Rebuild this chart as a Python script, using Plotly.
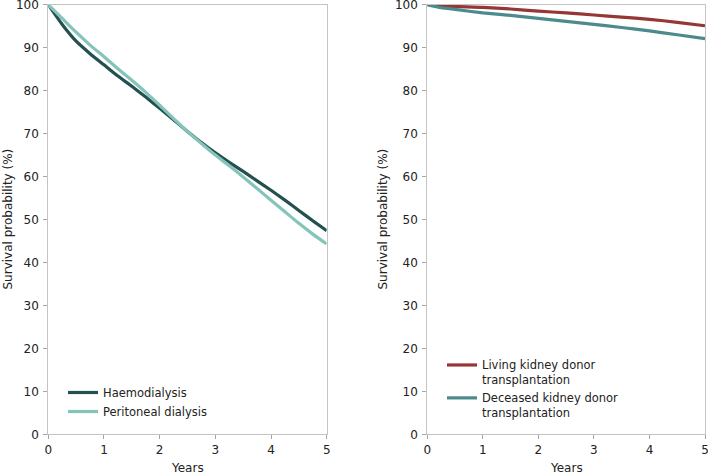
import plotly.graph_objects as go

years = [0, 0.25, 0.5, 0.75, 1, 1.25, 1.5, 1.75, 2, 2.25, 2.5, 2.75, 3, 3.25, 3.5, 3.75, 4, 4.25, 4.5, 4.75, 5]
haemodialysis = [100, 95.4, 91.5, 88.6, 86.0, 83.4, 81.0, 78.5, 75.9, 73.2, 70.5, 67.9, 65.5, 63.3, 61.2, 59.0, 56.8, 54.5, 52.1, 49.7, 47.4]
peritoneal = [100, 96.8, 93.6, 90.6, 87.9, 85.1, 82.4, 79.6, 76.6, 73.5, 70.5, 67.7, 65.0, 62.5, 59.9, 57.2, 54.5, 51.8, 49.1, 46.6, 44.3]

years_tx = [0, 0.25, 0.5, 1, 1.5, 2, 2.5, 3, 3.5, 4, 4.5, 5]
living = [100, 99.8, 99.6, 99.4, 99.0, 98.5, 98.1, 97.6, 97.1, 96.6, 95.9, 95.1]
deceased = [100, 99.3, 98.9, 98.1, 97.5, 96.8, 96.1, 95.4, 94.7, 93.9, 93.0, 92.1]

names_left = ["Haemodialysis", "Peritoneal dialysis"]
names_right = ["Living kidney donor<br>transplantation", "Deceased kidney donor<br>transplantation"]
colors = ["#24514F", "#84C4B9", "#953735", "#4B8B8D"]

x_ticks = [0, 1, 2, 3, 4, 5]
y_ticks = [0, 10, 20, 30, 40, 50, 60, 70, 80, 90, 100]
x_title = "Years"
y_title = "Survival probability (%)"

FONT = "DejaVu Sans, Verdana, sans-serif"
TXT = "#222222"
W, H = 708, 474

fig = go.Figure()
fig.add_trace(go.Scatter(x=years, y=haemodialysis, name=names_left[0], mode="lines",
                         line=dict(color=colors[0], width=3.2, shape="spline", smoothing=0.6),
                         xaxis="x", yaxis="y", legend="legend"))
fig.add_trace(go.Scatter(x=years, y=peritoneal, name=names_left[1], mode="lines",
                         line=dict(color=colors[1], width=3.2, shape="spline", smoothing=0.6),
                         xaxis="x", yaxis="y", legend="legend"))
fig.add_trace(go.Scatter(x=years_tx, y=living, name=names_right[0], mode="lines",
                         line=dict(color=colors[2], width=3.2, shape="spline", smoothing=0.6),
                         xaxis="x2", yaxis="y2", legend="legend2"))
fig.add_trace(go.Scatter(x=years_tx, y=deceased, name=names_right[1], mode="lines",
                         line=dict(color=colors[3], width=3.2, shape="spline", smoothing=0.6),
                         xaxis="x2", yaxis="y2", legend="legend2"))

axis_common = dict(showgrid=False, zeroline=False, showline=True, linecolor="#C4C4C4", linewidth=1,
                   mirror=True, ticks="outside", ticklen=4, tickcolor="#A6A6A6",
                   automargin=False, ticklabeloverflow="allow",
                   tickfont=dict(family=FONT, size=12, color=TXT))

ydom = [1 - 434.3 / H, 1 - 4.7 / H]
xdom1 = [48.3 / W, 326.7 / W]
xdom2 = [427.3 / W, 705 / W]

ann = []
for xd, ycx in ((xdom1, 8), (xdom2, 383)):
    ann.append(dict(text=x_title, xref="paper", yref="paper", x=(xd[0] + xd[1]) / 2, y=1 - 468 / H,
                    xanchor="center", yanchor="middle", showarrow=False,
                    font=dict(family=FONT, size=12, color=TXT)))
    ann.append(dict(text=y_title, xref="paper", yref="paper", x=ycx / W, y=(ydom[0] + ydom[1]) / 2,
                    xanchor="center", yanchor="middle", textangle=-90, showarrow=False,
                    font=dict(family=FONT, size=12, color=TXT)))

fig.update_layout(
    width=W, height=H,
    margin=dict(l=0, r=0, t=0, b=0),
    paper_bgcolor="white", plot_bgcolor="white",
    font=dict(family=FONT, size=12, color=TXT),
    xaxis=dict(domain=xdom1, range=[0, 5], tickvals=x_ticks, anchor="y", **axis_common),
    yaxis=dict(domain=ydom, range=[0, 100], tickvals=y_ticks, anchor="x", ticklabelstandoff=2, **axis_common),
    xaxis2=dict(domain=xdom2, range=[0, 5], tickvals=x_ticks, anchor="y2", **axis_common),
    yaxis2=dict(domain=ydom, range=[0, 100], tickvals=y_ticks, anchor="x2", ticklabelstandoff=2, **axis_common),
    legend=dict(x=63 / W, y=1 - 378 / H, xanchor="left", yanchor="top",
                bgcolor="rgba(0,0,0,0)", font=dict(family=FONT, size=11.5, color=TXT),
                tracegroupgap=0, itemwidth=30),
    legend2=dict(x=442 / W, y=1 - 351 / H, xanchor="left", yanchor="top", valign="top",
                 bgcolor="rgba(0,0,0,0)", font=dict(family=FONT, size=11.5, color=TXT),
                 tracegroupgap=0, itemwidth=30),
    annotations=ann,
    showlegend=True,
)

fig.write_html("out.html", config={"displayModeBar": False},
               post_script="document.body.style.margin='0';document.body.style.overflow='hidden';")
